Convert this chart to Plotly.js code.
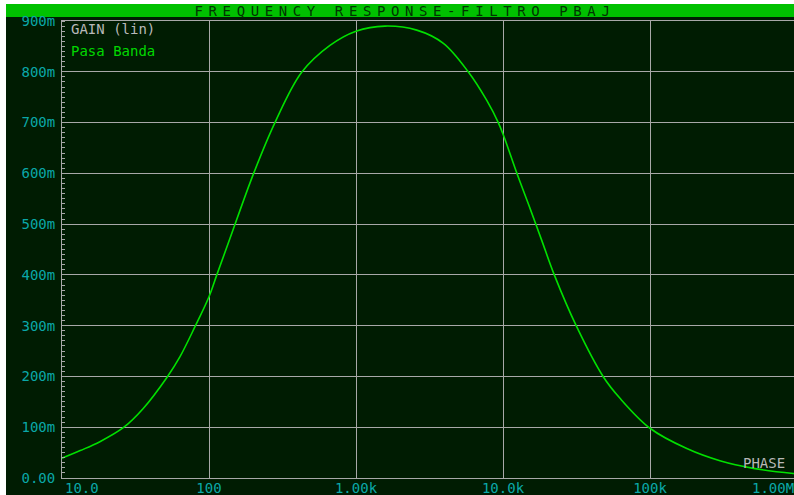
<!DOCTYPE html>
<html>
<head>
<meta charset="utf-8">
<script src="https://cdn.plot.ly/plotly-3.0.1.min.js"></script>
<style>
html,body{margin:0;padding:0;width:794px;height:495px;overflow:hidden;background:#ffffff;}
#chart{position:absolute;left:6px;top:4px;width:791px;height:491px;}
.gtitle{letter-spacing:5.6px;}
</style>
</head>
<body>
<div id="chart"></div>
<script>
// Frequency (Hz) and linear gain
const freq = [10, 13.3, 18.1, 26.1, 35.7, 52, 63.5, 80.3, 100, 113, 139, 200, 281, 427, 665, 1000, 1574, 2590, 3930, 5800, 7740, 9290, 10160, 12500, 15270, 18320, 22330, 31700, 48200, 62500, 100000, 178000, 299000, 505000, 944000, 1000000];
const gain = [0.039, 0.054, 0.0715, 0.099, 0.137, 0.199, 0.239, 0.298, 0.357, 0.400, 0.472, 0.598, 0.700, 0.799, 0.852, 0.880, 0.890, 0.882, 0.856, 0.800, 0.744, 0.700, 0.672, 0.598, 0.531, 0.4685, 0.400, 0.298, 0.199, 0.157, 0.098, 0.058, 0.034, 0.019, 0.009, 0.0085];

const xTickVals = [100, 1000, 10000, 100000];
const xTickText = ["100", "1.00k", "10.0k", "100k"];
const xEdgeVals = [10, 1000000];
const xEdgeText = ["10.0", "1.00M"];
const yTickVals = [0, 0.1, 0.2, 0.3, 0.4, 0.5, 0.6, 0.7, 0.8, 0.9];
const yTickText = ["0.00", "100m", "200m", "300m", "400m", "500m", "600m", "700m", "800m", "900m"];

const chartTitle = "FREQUENCY RESPONSE-FILTRO PBAJ";
const traceName = "Pasa Banda";

const bg = "#001c02";
const gridCol = "#a8a8a8";
const tickCol = "#0aa8a8";
const mono = "DejaVu Sans Mono, monospace";

const trace = {
  x: freq, y: gain, type: "scatter", mode: "lines", name: traceName,
  line: {color: "#00e000", width: 1.6, shape: "spline", smoothing: 1},
  hoverinfo: "skip"
};

const plotW = 735, plotH = 457, mL = 56, mT = 17;

const annotations = [
  {xref: "paper", yref: "paper", x: 7/plotW, y: 1 - 8/plotH, xanchor: "left", yanchor: "middle",
   text: "GAIN (lin)", showarrow: false, font: {family: mono, size: 14, color: "#b8b8b8"}},
  {xref: "paper", yref: "paper", x: 7/plotW, y: 1 - 30/plotH, xanchor: "left", yanchor: "middle",
   text: traceName, showarrow: false, font: {family: mono, size: 14, color: "#00d800"}},
  {xref: "paper", yref: "paper", x: 725/plotW, y: 15/plotH, xanchor: "right", yanchor: "middle",
   text: "PHASE", showarrow: false, font: {family: mono, size: 14, color: "#b8b8b8"}},
  {xref: "x", yref: "paper", x: Math.log10(xEdgeVals[0]), y: 0, yshift: -10, xshift: 1, xanchor: "left", yanchor: "middle",
   text: xEdgeText[0], showarrow: false, font: {family: mono, size: 14, color: tickCol}},
  {xref: "x", yref: "paper", x: Math.log10(xEdgeVals[1]), y: 0, yshift: -10, xshift: -47, xanchor: "left", yanchor: "middle",
   text: xEdgeText[1], showarrow: false, font: {family: mono, size: 14, color: tickCol}}
];

const layout = {
  width: 791, height: 491,
  margin: {l: mL, r: 0, t: mT, b: 17, pad: 0},
  paper_bgcolor: bg, plot_bgcolor: bg,
  showlegend: false,
  title: {text: chartTitle, font: {family: mono, size: 14, color: "#003400"},
          x: 399/791, xanchor: "center", xref: "container",
          y: 1 - 7/491, yanchor: "middle", yref: "container"},
  xaxis: {type: "log", range: [1, 6], tickvals: xTickVals, ticktext: xTickText,
          showgrid: true, gridcolor: gridCol, gridwidth: 1,
          showline: true, linecolor: gridCol, linewidth: 1, mirror: true,
          ticks: "", ticklabelstandoff: -3,
          tickfont: {family: mono, size: 14, color: tickCol}, zeroline: false, fixedrange: true},
  yaxis: {range: [0, 0.9], tickvals: yTickVals, ticktext: yTickText,
          showgrid: true, gridcolor: gridCol, gridwidth: 1,
          showline: true, linecolor: gridCol, linewidth: 1,
          ticks: "", ticklabelstandoff: 3,
          minor: {dtick: 0.01, ticks: "inside", ticklen: 3, tickcolor: gridCol, tickwidth: 1, showgrid: false},
          tickfont: {family: mono, size: 14, color: tickCol}, zeroline: false, fixedrange: true},
  shapes: [
    {type: "rect", xref: "paper", yref: "paper", x0: -mL/plotW, x1: 1.01, y0: 1 + 4/plotH, y1: 1 + (mT+1)/plotH,
     fillcolor: "#00c000", line: {width: 0}, layer: "below"}
  ],
  annotations: annotations
};

Plotly.newPlot("chart", [trace], layout, {staticPlot: true, displayModeBar: false});
</script>
</body>
</html>
